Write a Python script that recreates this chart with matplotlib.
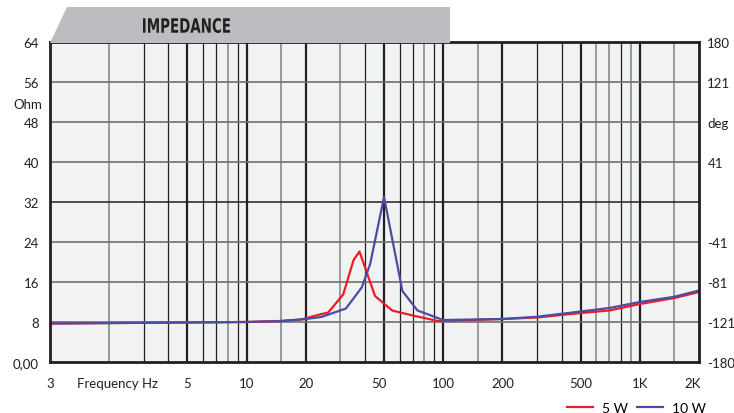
import numpy as np
import matplotlib
matplotlib.use("Agg")
import matplotlib.pyplot as plt
from matplotlib.patches import Polygon, PathPatch
from matplotlib.lines import Line2D
from matplotlib.textpath import TextPath
from matplotlib.font_manager import FontProperties
from matplotlib.transforms import Affine2D, IdentityTransform

# ── Data ──────────────────────────────────────────────────────────────────────
freq_5w = [1, 5, 10, 15, 19, 22, 26, 31, 35, 37.5, 45, 55, 70, 94, 120, 200,
           300, 500, 700, 1000, 1500, 2000]
imp_5w  = [7.7, 7.9, 8.0, 8.2, 8.5, 9.2, 9.9, 13.5, 20.4, 22.1, 13.2, 10.3,
           9.3, 8.2, 8.3, 8.6, 8.9, 9.8, 10.3, 11.6, 12.8, 14.0]

freq_10w = [1, 5, 10, 15, 20, 24, 32, 38.5, 42.5, 50, 62, 74, 100, 200,
            300, 500, 700, 1000, 1500, 2000]
imp_10w  = [7.7, 7.9, 8.0, 8.2, 8.6, 9.0, 10.7, 14.9, 19.6, 33.0, 14.2, 10.3,
            8.4, 8.6, 9.05, 10.1, 10.8, 12.0, 13.05, 14.3]

x_tick_pos    = [1, 2.2, 5, 10, 20, 47, 100, 200, 500, 1000, 1850]
x_tick_labels = ["3", "Frequency Hz", "5", "10", "20", "50", "100", "200",
                 "500", "1K", "2K"]
y_ticks        = [0, 8, 16, 24, 32, 40, 48, 56, 64]
y_labels_left  = ["0,00", "8", "16", "24", "32", "40", "48", "56", "64"]
y_labels_right = ["-180", "-121", "-81", "-41", "", "41", "deg", "121", "180"]

# grid line groups
v_thick = [5, 10, 20, 50, 100, 200, 500, 1000]
v_thin  = [3, 4, 6, 7, 9, 40, 60, 70, 90, 300, 400, 800]
v_gray  = [2, 8, 15, 30, 80, 150, 600, 700, 900, 1500]
h_gray  = [8, 16, 24, 40, 48, 56]
h_black = [32]

RED  = "#ec1c24"
BLUE = "#4d4ca4"
INK  = "#231f20"
plt.rcParams["font.family"] = ["Lato", "DejaVu Sans"]

W, H = 734, 414
fig = plt.figure(figsize=(W / 100, H / 100), dpi=100)
ax = fig.add_axes([50 / W, 1 - 363 / H, (699 - 50) / W, (363 - 43) / H])
ax.set_facecolor("#f1f2f2")

ax.set_xscale("log")
ax.set_xlim(1, 2000)
ax.set_ylim(0, 64)

# ── Grid ──────────────────────────────────────────────────────────────────────
for f in v_gray:
    ax.axvline(f, color="#8a8a8a", lw=1.2, zorder=1)
for f in v_thin:
    ax.axvline(f, color=INK, lw=0.9, zorder=1)
for f in v_thick:
    ax.axvline(f, color=INK, lw=1.6, zorder=1)
for v in h_gray:
    ax.axhline(v, color="#707070", lw=1.2, zorder=1)
for v in h_black:
    ax.axhline(v, color=INK, lw=1.1, zorder=1)

# ── Curves ────────────────────────────────────────────────────────────────────
ax.plot(freq_5w, imp_5w, color=RED, lw=1.6, zorder=3)
ax.plot(freq_10w, imp_10w, color=BLUE, lw=1.6, zorder=4)

for s in ax.spines.values():
    s.set_linewidth(2.0)
    s.set_color(INK)
    s.set_zorder(5)

ax.set_xticks(x_tick_pos)
ax.set_xticklabels(x_tick_labels)
ax.xaxis.set_minor_locator(matplotlib.ticker.NullLocator())
ax.tick_params(axis="x", length=0, pad=11, labelsize=9.5, colors=INK)
ax.set_yticks(y_ticks)
ax.set_yticklabels(y_labels_left)
ax.tick_params(axis="y", length=0, pad=8, labelsize=9.5, colors=INK)
ax.text(-0.012, 51.6, "Ohm", transform=ax.get_yaxis_transform(),
        ha="right", va="center", fontsize=9.5, color=INK)

ax2 = ax.twinx()
ax2.set_ylim(0, 64)
ax2.set_yticks(y_ticks)
ax2.set_yticklabels(y_labels_right)
ax2.tick_params(axis="y", length=0, pad=6, labelsize=9.5, colors=INK)
for s in ax2.spines.values():
    s.set_visible(False)

# ── Header tab ────────────────────────────────────────────────────────────────
tab = Polygon([(50 / W, 1 - 44 / H), (67 / W, 1 - 8 / H),
               (450 / W, 1 - 8 / H), (450 / W, 1 - 44 / H)],
              closed=True, transform=fig.transFigure, facecolor="#bcbdc0",
              edgecolor="none", zorder=0)
fig.patches.append(tab)

# condensed bold title: squeeze a text path horizontally
tp = TextPath((0, 0), "IMPEDANCE", size=20,
              prop=FontProperties(family="DejaVu Sans", weight="bold"))
bb = tp.get_extents()
squeeze = Affine2D().translate(-bb.x0, -bb.y0) \
    .scale(87 / bb.width, 15 / bb.height).translate(143, H - 34)
fig.patches.append(PathPatch(squeeze.transform_path(tp),
                             transform=IdentityTransform(),
                             facecolor=INK, edgecolor="none", zorder=1))

# ── Legend ────────────────────────────────────────────────────────────────────
handles = [Line2D([], [], color=RED, lw=1.6), Line2D([], [], color=BLUE, lw=1.6)]
fig.legend(handles, ["5 W", "10 W"], loc="center right",
           bbox_to_anchor=(706 / W, 1 - 409 / H), ncol=2, frameon=False,
           fontsize=10, handlelength=1.9, handletextpad=0.65,
           columnspacing=0.6, borderaxespad=0, borderpad=0)

fig.savefig("out.png", dpi=100)
